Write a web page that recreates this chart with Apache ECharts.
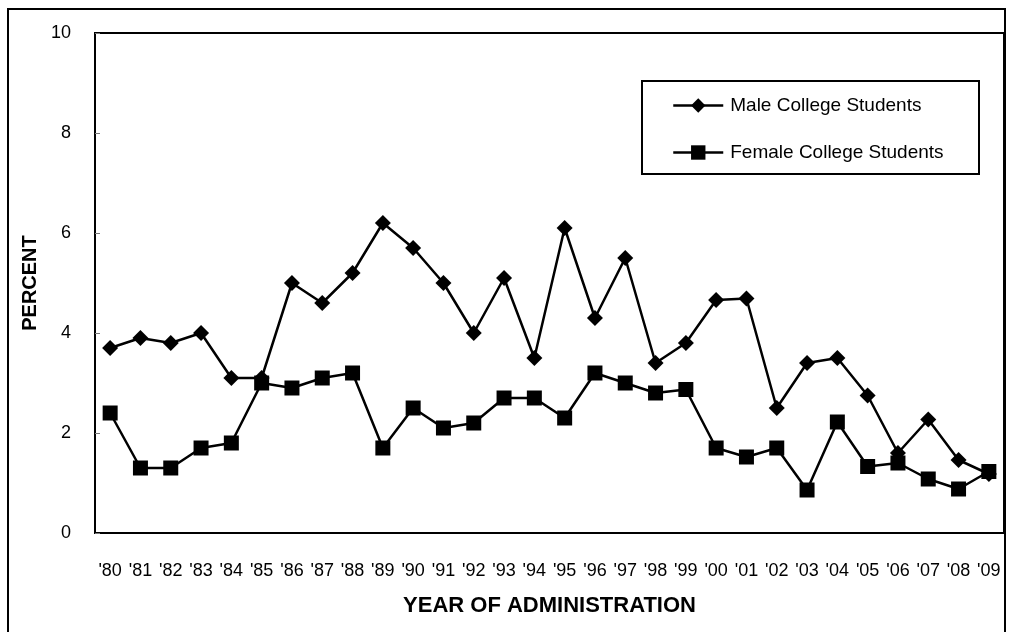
<!DOCTYPE html>
<html>
<head>
<meta charset="utf-8">
<script src="https://cdn.jsdelivr.net/npm/echarts@6/dist/echarts.min.js"></script>
<style>
html,body{margin:0;padding:0;background:#fff;}
#chart{width:1010px;height:632px;}
</style>
</head>
<body>
<div id="chart"></div>
<script>
var years = ["'80","'81","'82","'83","'84","'85","'86","'87","'88","'89","'90","'91","'92","'93","'94","'95","'96","'97","'98","'99","'00","'01","'02","'03","'04","'05","'06","'07","'08","'09"];
var maleValues = [3.7,3.9,3.8,4.0,3.1,3.1,5.0,4.6,5.2,6.2,5.7,5.0,4.0,5.1,3.5,6.1,4.3,5.5,3.4,3.8,4.66,4.69,2.5,3.4,3.5,2.75,1.6,2.27,1.46,1.18];
var femaleValues = [2.4,1.3,1.3,1.7,1.8,3.0,2.9,3.1,3.2,1.7,2.5,2.1,2.2,2.7,2.7,2.3,3.2,3.0,2.8,2.87,1.7,1.52,1.7,0.86,2.22,1.33,1.4,1.08,0.88,1.23];
var yTicks = [0,2,4,6,8,10];
var seriesNames = ["Male College Students","Female College Students"];

var font = "'Liberation Sans', Arial, sans-serif";
var chart = echarts.init(document.getElementById('chart'), null, {renderer:'canvas'});
chart.setOption({
  animation:false,
  backgroundColor:'#fff',
  graphic:[
    {type:'rect', shape:{x:8,y:9,width:997,height:640}, style:{fill:'none',stroke:'#000',lineWidth:2}, z:100},
    {type:'rect', shape:{x:642,y:81,width:337,height:93}, style:{fill:'#fff',stroke:'#000',lineWidth:2}, z:1}
  ],
  grid:{left:95,top:33,width:909,height:500,show:true,borderColor:'#000',borderWidth:2,backgroundColor:'transparent',containLabel:false},
  legend:{
    orient:'vertical', left:672, top:96, itemWidth:50, itemHeight:18, itemGap:28,
    textStyle:{fontFamily:font,fontSize:19,color:'#000',padding:[0,0,0,2]},
    lineStyle:{width:2.5,color:'#000'},
    padding:0, z:5,
    data:seriesNames
  },
  xAxis:{
    type:'category', data:years, boundaryGap:true,
    axisLine:{lineStyle:{color:'#000',width:2}},
    axisTick:{inside:true,length:6,lineStyle:{color:'#555',width:1}},
    axisLabel:{fontFamily:font,fontSize:18,color:'#000',margin:29,interval:0},
    name:'YEAR OF ADMINISTRATION', nameLocation:'middle', nameGap:62,
    nameTextStyle:{fontFamily:font,fontSize:22,fontWeight:'bold',color:'#000'},
    splitLine:{show:false}
  },
  yAxis:{
    type:'value', min:yTicks[0], max:yTicks[yTicks.length-1], interval:2,
    axisLine:{show:true,lineStyle:{color:'#000',width:2}},
    axisTick:{show:true,inside:true,length:5,lineStyle:{color:'#777',width:1}},
    axisLabel:{fontFamily:font,fontSize:18,color:'#000',margin:24},
    splitLine:{show:false},
    name:'PERCENT', nameLocation:'middle', nameGap:44, nameRotate:90,
    nameTextStyle:{fontFamily:font,fontSize:20,fontWeight:'bold',color:'#000'}
  },
  series:[
    {name:seriesNames[0], type:'line', data:maleValues, symbol:'diamond', symbolSize:16,
     lineStyle:{color:'#000',width:2.5}, itemStyle:{color:'#000'}, z:3},
    {name:seriesNames[1], type:'line', data:femaleValues, symbol:'rect', symbolSize:15,
     lineStyle:{color:'#000',width:2.5}, itemStyle:{color:'#000'}, z:4}
  ]
});
</script>
</body>
</html>
